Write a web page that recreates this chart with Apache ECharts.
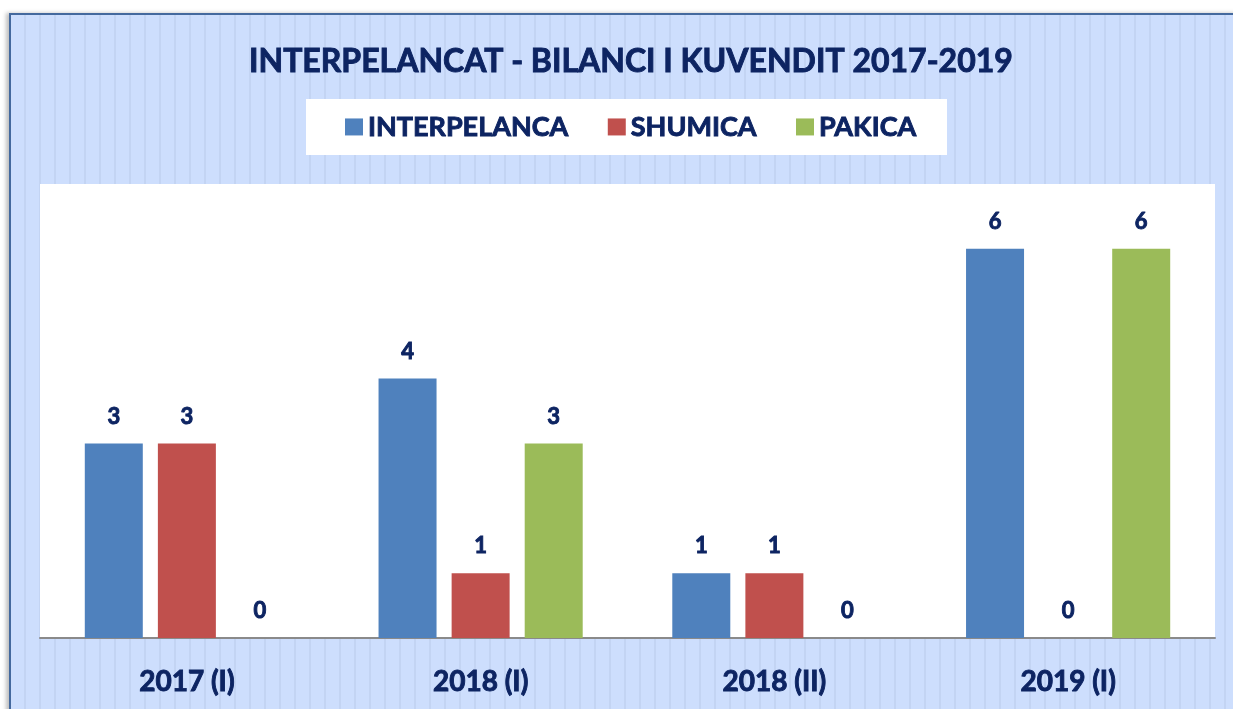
<!DOCTYPE html>
<html>
<head>
<meta charset="utf-8">
<script src="https://cdn.jsdelivr.net/npm/echarts@6/dist/echarts.min.js"></script>
<style>
  html, body { margin: 0; padding: 0; background: #fff; overflow: hidden; }
  .frame {
    position: absolute; left: 9px; top: 13px; width: 1300px; height: 760px;
    border-left: 2px solid #44699e; border-top: 2px solid #44699e;
    background-color: #cddefd;
    background-image: repeating-linear-gradient(90deg, #cddefd 0px, #cddefd 13px, #c3d4f3 13px, #c3d4f3 15px);
    box-shadow: -3px 0 4px rgba(0,0,0,0.25);
  }
  #chart { position: absolute; left: 0; top: 0; width: 1233px; height: 709px; }
</style>
</head>
<body>
<div class="frame"></div>
<div id="chart"></div>
<script>
const categories = ['2017 (I)', '2018 (I)', '2018 (II)', '2019 (I)']
const interpelanca = [3, 4, 1, 6]
const shumica = [3, 1, 1, 0]
const pakica = [0, 3, 0, 6]

const navy = '#0d2462'
const font = 'Lato'

const chart = echarts.init(document.getElementById('chart'))

// heavier look like the original bold face
const heavy = { color: navy, fontFamily: font, fontWeight: 'bold', textBorderColor: navy, textBorderWidth: 0.9 }

const label = Object.assign({
  show: true,
  position: 'top',
  distance: 16,
  fontSize: 22
}, heavy)

chart.setOption({
  backgroundColor: 'transparent',
  animation: false,
  title: {
    text: 'INTERPELANCAT - BILANCI I KUVENDIT 2017-2019',
    left: 244,
    top: 41,
    textStyle: Object.assign({ fontSize: 32 }, heavy)
  },
  graphic: [
    { type: 'rect', left: 306, top: 99, shape: { width: 641, height: 56 }, style: { fill: '#fff' }, z: 0 }
  ],
  legend: {
    top: 108,
    left: 340,
    itemWidth: 18,
    itemHeight: 17,
    itemGap: 39,
    icon: 'rect',
    textStyle: Object.assign({ fontSize: 27 }, heavy),
    z: 5
  },
  grid: {
    left: 40, right: 18, top: 184, bottom: 71,
    show: true, backgroundColor: '#fff', borderWidth: 0,
    containLabel: false
  },
  xAxis: {
    type: 'category',
    data: categories,
    axisLine: { lineStyle: { color: '#8a8a8a', width: 2 } },
    axisTick: { show: false },
    axisLabel: Object.assign({ fontSize: 28, margin: 30 }, heavy)
  },
  yAxis: {
    type: 'value', min: 0, max: 7,
    show: false,
    splitLine: { show: false }
  },
  series: [
    { name: 'INTERPELANCA', type: 'bar', data: interpelanca, barWidth: 58, barGap: '26%', itemStyle: { color: '#4f81bd' }, label },
    { name: 'SHUMICA', type: 'bar', data: shumica, barWidth: 58, barGap: '26%', itemStyle: { color: '#c0504d' }, label },
    { name: 'PAKICA', type: 'bar', data: pakica, barWidth: 58, barGap: '26%', itemStyle: { color: '#9bbb59' }, label }
  ]
})
</script>
</body>
</html>
